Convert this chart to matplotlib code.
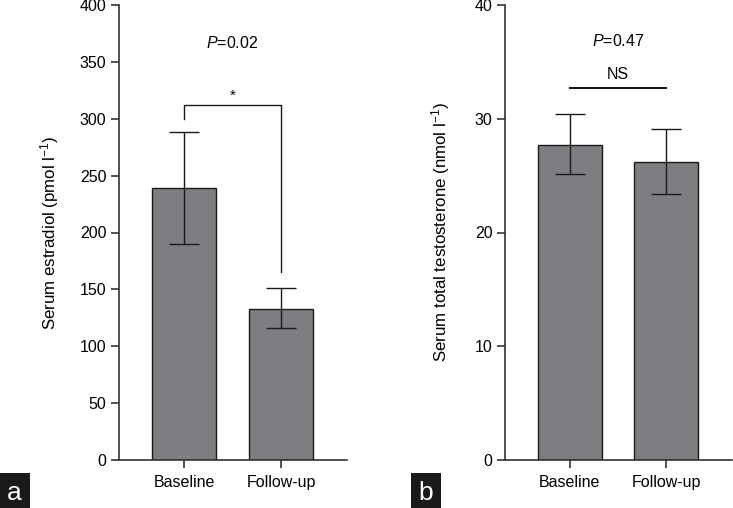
import matplotlib.pyplot as plt

plt.rcParams['font.family'] = ['Liberation Sans', 'DejaVu Sans']
plt.rcParams['mathtext.fontset'] = 'custom'
plt.rcParams['mathtext.rm'] = 'Liberation Sans'
plt.rcParams['mathtext.it'] = 'Liberation Sans:italic'

groups = ['Baseline', 'Follow-up']
estradiol = [239, 133]
estradiol_err_hi = [288, 151]
estradiol_err_lo = [190, 116]
testosterone = [27.7, 26.2]
testosterone_err_hi = [30.4, 29.1]
testosterone_err_lo = [25.1, 23.4]

bar_color = '#7e7e82'
line_color = '#1a1a1a'
fs = 11.5

fig = plt.figure(figsize=(7.33, 5.08), dpi=100)
ax_a = fig.add_axes([119 / 733, 1 - 460 / 508, 228 / 733, 455 / 508])
ax_b = fig.add_axes([505 / 733, 1 - 460 / 508, 227 / 733, 455 / 508])


def draw_panel(ax, vals, hi, lo, ymax, step, ylabel):
    x = list(range(len(vals)))
    yerr = [[v - l for v, l in zip(vals, lo)], [h - v for v, h in zip(vals, hi)]]
    ax.bar(x, vals, width=0.66, color=bar_color, edgecolor=line_color, linewidth=1.0, zorder=2)
    ax.errorbar(x, vals, yerr=yerr, fmt='none', ecolor=line_color, elinewidth=1.0,
                capsize=11, capthick=1.0, zorder=3)
    ax.set_xlim(-0.67, 1.68)
    ax.set_ylim(0, ymax)
    ax.set_yticks([i * step for i in range(int(ymax / step) + 1)])
    ax.set_xticks(x)
    ax.set_xticklabels(groups)
    ax.spines['top'].set_visible(False)
    ax.spines['right'].set_visible(False)
    for s in ['left', 'bottom']:
        ax.spines[s].set_linewidth(1.2)
        ax.spines[s].set_color('#333333')
    ax.tick_params(axis='both', direction='out', length=6, width=1.2, color='#333333',
                   labelsize=fs, pad=3)
    ax.tick_params(axis='x', pad=5)
    ax.set_ylabel(ylabel, fontsize=12.2)


draw_panel(ax_a, estradiol, estradiol_err_hi, estradiol_err_lo, 400, 50,
           'Serum estradiol (pmol l$^{\\mathregular{-1}}$)')
draw_panel(ax_b, testosterone, testosterone_err_hi, testosterone_err_lo, 40, 10,
           'Serum total testosterone (nmol l$^{\\mathregular{-1}}$)')
ax_a.yaxis.set_label_coords(-0.255, 0.5)
ax_b.yaxis.set_label_coords(-0.232, 0.5)

# significance marks, panel a
ax_a.plot([0, 0, 1, 1], [300, 312, 312, 165], color=line_color, lw=1.0)
ax_a.text(0.5, 320, '*', ha='center', va='center', fontsize=11)
ax_a.text(0.5, 367, '$\\it{P}$=0.02', ha='center', va='center', fontsize=fs)

# panel b
ax_b.plot([0, 1], [32.7, 32.7], color=line_color, lw=1.5)
ax_b.text(0.5, 33.9, 'NS', ha='center', va='center', fontsize=fs)
ax_b.text(0.5, 36.8, '$\\it{P}$=0.47', ha='center', va='center', fontsize=fs)

# panel letters
for px, letter in [(14.5, 'a'), (426, 'b')]:
    fig.text(px / 733, 1 - 493 / 508, letter, color='white', fontsize=19, ha='center',
             va='center', bbox=dict(boxstyle='square,pad=0.3', fc='#1a1a1a', ec='none'))

fig.savefig('out.png', dpi=100)
